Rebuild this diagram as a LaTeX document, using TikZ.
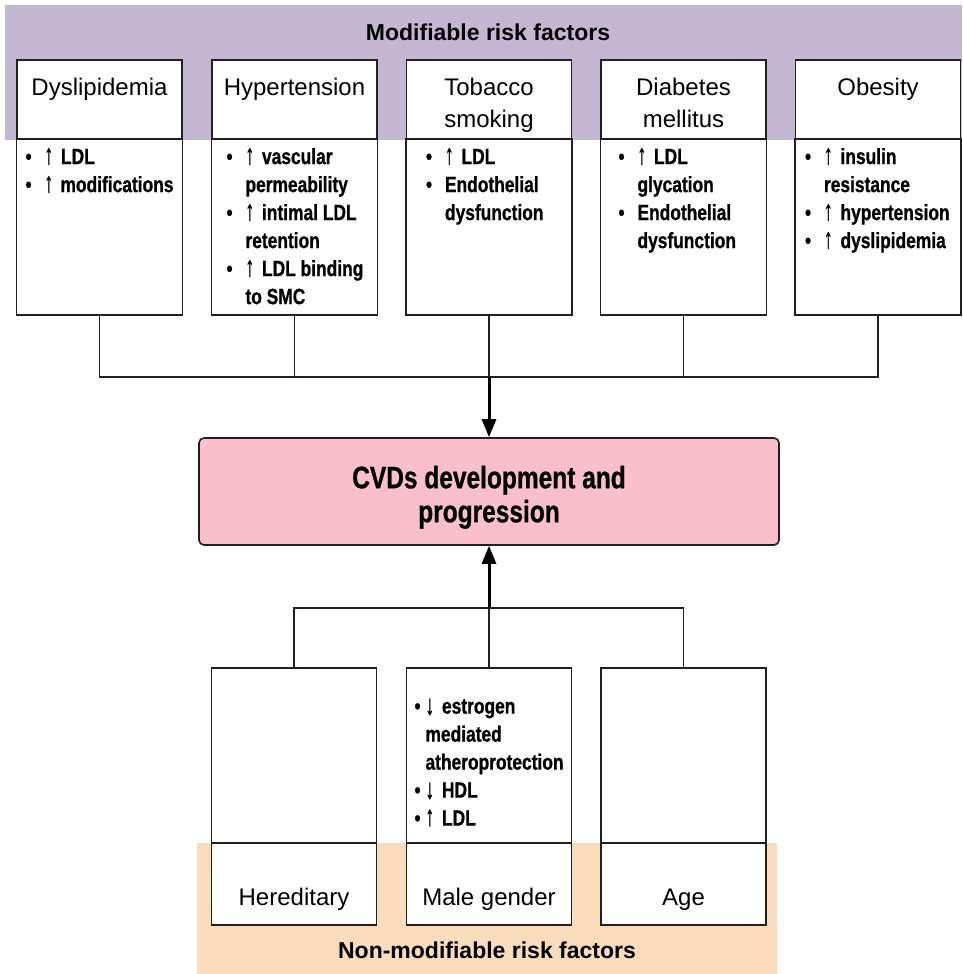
\documentclass[tikz,border=0pt]{standalone}
\usepackage{fontspec}
\setmainfont{Liberation Sans}
\newfontfamily\condfont{Liberation Sans}[FakeStretch=0.79, BoldFeatures={FakeBold=0.8}]
\usetikzlibrary{positioning,arrows.meta}

\definecolor{linecol}{RGB}{35,31,32}
\definecolor{modband}{RGB}{195,183,209}
\definecolor{cvdpink}{RGB}{249,191,204}
\definecolor{fixedband}{RGB}{249,220,188}

% bullet with hanging indent, tall arrows
\newcommand{\riskitem}[2][19pt]{\par\hangindent=#1\hangafter=1\noindent
    \makebox[#1][l]{\textbullet}#2}
\newcommand{\riskbody}[2][0pt]{\parbox[c][158pt][t]{148pt}{\raggedright
    \leftskip=#1 #2}}
\newcommand{\upar}{\scalebox{1}[1.3]{↑}\hspace{3pt}}
\newcommand{\downar}{\raisebox{-1pt}{\scalebox{1}[1.3]{↓}}\hspace{3pt}}
\newcommand{\headstrut}{\rule{0pt}{23.5pt}}
\newcommand{\footstrut}{\rule{0pt}{16pt}}

\begin{document}
\begin{tikzpicture}[
    x=1pt,
    y=-1pt,
    head/.style={
        draw=linecol,
        line width=1.6pt,
        fill=white,
        minimum width=165pt,
        minimum height=79pt,
        inner sep=0pt,
        outer sep=0pt,
        align=center,
        font=\fontsize{24}{32}\selectfont
    },
    body/.style={
        draw=linecol,
        line width=1.6pt,
        fill=white,
        minimum width=165pt,
        minimum height=176pt,
        inner sep=9pt,
        outer sep=0pt,
        font=\condfont\bfseries\fontsize{22}{28}\selectfont
    },
    lowbody/.style={
        body,
        minimum height=175pt,
        inner sep=8pt
    },
    foot/.style={
        head,
        minimum height=82pt
    },
    title/.style={
        font=\bfseries\fontsize{23}{28}\selectfont,
        text=black
    },
    link/.style={
        draw=linecol,
        line width=1.6pt
    },
    flow/.style={
        -{Triangle[length=18pt,width=14pt]},
        draw=black,
        line width=3pt
    }]

\useasboundingbox (0,0) rectangle (962,974);

% Achtergrondbanden
\fill[modband] (5,5) rectangle (962,140);
\fill[fixedband] (197,843) rectangle (777,974);

% Titels
\node[title] (modtitle) at (488,32)
{Modifiable risk factors};

\node[title] (fixedtitle) at (487,950)
{Non-modifiable risk factors};


% Modificeerbare factoren
\node[head] (dys) at (99.5,99.5)
{\headstrut Dyslipidemia\\\mbox{}};
\node[body, below=0pt of dys] (dys-b)
{\riskbody{\riskitem{\upar{} LDL}
\riskitem{\upar{} modifications}}};

\node[head] (hyp) at (294.5,99.5)
{\headstrut Hypertension\\\mbox{}};
\node[body, below=0pt of hyp] (hyp-b)
{\riskbody[6pt]{\riskitem{\upar{} vascular\newline permeability}
\riskitem{\upar{} intimal LDL\newline retention}
\riskitem{\upar{} LDL binding\newline to SMC}}};

\node[head] (tob) at (489,99.5)
{\headstrut Tobacco\\\raisebox{0pt}[\height][0pt]{smoking}};
\node[body, below=0pt of tob] (tob-b)
{\riskbody[11pt]{\riskitem{\upar{} LDL}
\riskitem{Endothelial\newline dysfunction}}};

\node[head] (dia) at (683.5,99.5)
{\headstrut Diabetes\\mellitus};
\node[body, below=0pt of dia] (dia-b)
{\riskbody[9pt]{\riskitem{\upar{} LDL\newline glycation}
\riskitem{Endothelial\newline dysfunction}}};

\node[head] (obe) at (878,99.5)
{\headstrut Obesity\\\mbox{}};
\node[body, below=0pt of obe] (obe-b)
{\riskbody[1pt]{\riskitem{\upar{} insulin\newline resistance}
\riskitem{\upar{} hypertension}
\riskitem{\upar{} dyslipidemia}}};


% Centraal blok
\node[
    draw=linecol,
    line width=1.6pt,
    fill=cvdpink,
    rounded corners=5pt,
    minimum width=580pt,
    minimum height=107pt,
    align=center,
    font=\condfont\bfseries\fontsize{31}{34}\selectfont
] (cvd) at (489,491.5)
{\rule{0pt}{34pt}CVDs development and\\progression};


% Niet-modificeerbare factoren
\node[lowbody] (her-b) at (294,755.5)
{};
\node[foot, below=0pt of her-b] (her)
{\footstrut\\Hereditary};

\node[lowbody] (mal-b) at (489,755.5)
{\parbox{149pt}{\raggedright\vspace*{14pt}
\riskitem[11pt]{\downar{} estrogen\newline mediated\newline atheroprotection}
\riskitem[11pt]{\downar{} HDL}
\riskitem[11pt]{\upar{} LDL}}};
\node[foot, below=0pt of mal-b] (mal)
{\footstrut\\Male gender};

\node[lowbody] (age-b) at (683.5,755.5)
{};
\node[foot, below=0pt of age-b] (age)
{\footstrut\\Age};


% Verbindingen boven
\coordinate (topjoin) at (489,377);

\draw[link]
(dys-b.south) |- (obe-b.south |- topjoin)
-- (obe-b.south);

\draw[link] (hyp-b.south) -- (hyp-b.south |- topjoin);
\draw[link] (tob-b.south) -- (tob-b.south |- topjoin);
\draw[link] (dia-b.south) -- (dia-b.south |- topjoin);

\draw[flow] (topjoin) -- (cvd.north);


% Verbindingen onder
\coordinate (lowjoin) at (489,608);

\draw[link]
(her-b.north) |- (age-b.north |- lowjoin)
-- (age-b.north);

\draw[link] (mal-b.north) -- (mal-b.north |- lowjoin);

\draw[flow] (lowjoin) -- (cvd.south);

\end{tikzpicture}
\end{document}
